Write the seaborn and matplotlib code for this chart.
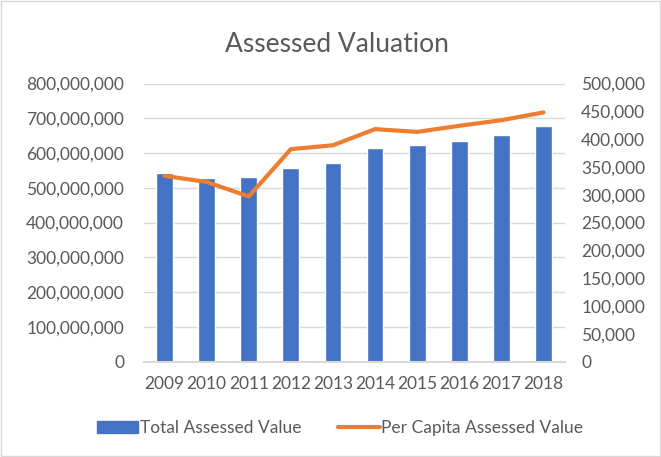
import matplotlib
matplotlib.use("Agg")
import matplotlib.pyplot as plt
import matplotlib.ticker as mticker
from matplotlib.patches import Patch, Rectangle
from matplotlib.lines import Line2D
import numpy as np
import pandas as pd
import seaborn as sns

years = ["2009", "2010", "2011", "2012", "2013", "2014", "2015", "2016", "2017", "2018"]
total_value = [542e6, 527e6, 531e6, 556e6, 571e6, 614e6, 622e6, 635e6, 651e6, 677e6]
per_capita = [334000, 323000, 297000, 382000, 389000, 418000, 413000, 424000, 434000, 448000]
left_ticks = [0, 100e6, 200e6, 300e6, 400e6, 500e6, 600e6, 700e6, 800e6]
right_ticks = [0, 50000, 100000, 150000, 200000, 250000, 300000, 350000, 400000, 450000, 500000]

sns.set_theme(style="white")
plt.rcParams['font.family'] = ['Lato', 'DejaVu Sans']

BLUE = "#4472C4"
ORANGE = "#ED7D31"
GRAY = "#595959"
GRID = "#D9D9D9"

df = pd.DataFrame({"year": years, "total": total_value, "pc": per_capita})
df["pos"] = np.arange(len(years))

fig = plt.figure(figsize=(6.61, 4.57), dpi=100)
ax = fig.add_axes([143.5/661, 1-361.7/457, (564.5-143.5)/661, (361.7-83.5)/457])

sns.barplot(data=df, x="year", y="total", color=BLUE, width=0.4, ax=ax, saturation=1)
ax.set_ylim(0, 800e6)
ax.set_xlim(-0.5, len(years)-0.5)
ax.set_yticks(left_ticks)
ax.yaxis.set_major_formatter(mticker.FuncFormatter(lambda v, p: f"{int(v):,}"))
ax.grid(axis="y", color=GRID, linewidth=1)
ax.set_axisbelow(True)
for s in ["top", "right", "left"]:
    ax.spines[s].set_visible(False)
ax.spines["bottom"].set_color(GRID)
ax.spines["bottom"].set_linewidth(1.5)
ax.set_xlabel("")
ax.set_ylabel("")
ax.tick_params(axis="y", length=0, labelsize=12.5, colors=GRAY, pad=14)
ax.tick_params(axis="x", length=0, labelsize=12.5, colors=GRAY, pad=10)

ax2 = ax.twinx()
sns.lineplot(data=df, x="pos", y="pc", color=ORANGE, linewidth=3, ax=ax2)
ax2.set_ylim(0, 500000)
ax2.set_yticks(right_ticks)
ax2.yaxis.set_major_formatter(mticker.FuncFormatter(lambda v, p: f"{int(v):,}"))
for s in ["top", "right", "left", "bottom"]:
    ax2.spines[s].set_visible(False)
ax2.set_ylabel("")
ax2.set_xlabel("")
ax2.tick_params(axis="both", length=0, labelsize=12.5, colors=GRAY, pad=12)
ax2.set_xlim(-0.5, len(years)-0.5)

fig.text(337/661, 1-44/457, "Assessed Valuation", ha="center", va="center", fontsize=19, color=GRAY)

handles = [Patch(facecolor=BLUE, edgecolor=BLUE, label="Total Assessed Value"),
           Line2D([0], [0], color=ORANGE, linewidth=3, solid_capstyle="round", label="Per Capita Assessed Value")]
fig.legend(handles=handles, loc="center", bbox_to_anchor=(340/661, 1-428/457), ncol=2, frameon=False,
           fontsize=12.5, labelcolor=GRAY, handlelength=2.4, handleheight=0.7, columnspacing=2.1, handletextpad=0.1)

fig.patches.append(Rectangle((0.002, 0.002), 0.996, 0.996, transform=fig.transFigure, fill=False,
                             edgecolor=GRID, linewidth=1))

fig.savefig("out.png", dpi=100)
